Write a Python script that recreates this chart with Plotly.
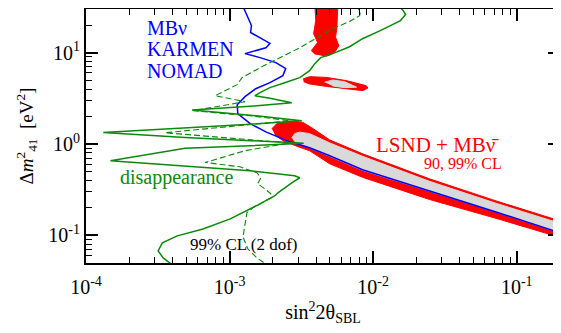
import plotly.graph_objects as go

# ---- data ----
blue_x = [1.24e-3, 1.32e-3, 1.42e-3, 1.40e-3, 1.63e-3, 1.91e-3, 1.79e-3, 1.28e-3, 1.63e-3, 2.10e-3,
          2.46e-3, 2.35e-3, 1.91e-3, 1.52e-3, 1.28e-3, 1.13e-3, 1.14e-3, 1.39e-3, 1.79e-3, 2.50e-3,
          3.61e-3, 4.98e-3, 8.43e-3, 2.46e-2, 7.17e-2, 0.2]
blue_y = [32, 25.4, 19.8, 16.6, 14.6, 12.6, 11.3, 9.75, 8.81, 7.77,
          6.68, 5.60, 4.69, 4.03, 3.30, 2.69, 2.15, 1.67, 1.36, 1.09,
          0.91, 0.745, 0.523, 0.308, 0.181, 0.107]

band99_x = [1.97e-3, 2.13e-3, 2.63e-3, 3.23e-3, 3.73e-3, 4.98e-3, 8.43e-3, 2.46e-2, 7.17e-2, 0.2,
            0.2, 7.17e-2, 2.46e-2, 8.43e-3, 4.98e-3, 3.61e-3, 2.94e-3, 2.35e-3, 2.07e-3]
band99_y = [1.47, 1.67, 1.78, 1.73, 1.51, 1.11, 0.783, 0.417, 0.239, 0.1445,
            0.0953, 0.154, 0.248, 0.433, 0.608, 0.845, 0.946, 1.09, 1.26]

band90_x = [2.71e-3, 2.84e-3, 3.08e-3, 3.61e-3, 4.98e-3, 8.43e-3, 2.46e-2, 7.17e-2, 0.2,
            0.2, 7.17e-2, 2.46e-2, 8.43e-3, 4.98e-3, 3.61e-3, 3.08e-3, 2.80e-3]
band90_y = [1.17, 1.30, 1.35, 1.30, 1.03, 0.735, 0.392, 0.225, 0.1358,
            0.107, 0.181, 0.304, 0.516, 0.735, 0.90, 1.01, 1.09]

island99_x = [3.25e-3, 3.61e-3, 4.72e-3, 6.50e-3, 8.94e-3, 9.18e-3, 8.47e-3, 6.50e-3, 4.72e-3, 3.61e-3, 3.28e-3]
island99_y = [5.15, 5.46, 5.36, 4.94, 4.35, 4.10, 3.84, 4.00, 4.27, 4.54, 4.81]
island90_x = [4.59e-3, 5.22e-3, 6.32e-3, 7.66e-3, 6.32e-3, 5.22e-3]
island90_y = [4.75, 5.02, 4.81, 4.19, 4.14, 4.32]

blob99_x = [3.92e-3, 3.98e-3, 3.85e-3, 4.10e-3, 3.71e-3, 3.92e-3, 4.72e-3, 4.98e-3, 5.39e-3, 5.77e-3,
            5.47e-3, 5.59e-3, 5.68e-3]
blob99_y = [35, 22.4, 16.1, 12.9, 10.5, 9.68, 9.16, 9.39, 10.08, 11.9, 14.7, 18.9, 35]

dis_solid_x = [1.47e-2, 1.62e-2, 1.68e-2, 1.55e-2, 1.12e-2, 8.43e-3, 6.85e-3, 5.22e-3, 4.31e-3, 3.92e-3,
               3.61e-3, 3.08e-3, 2.42e-3, 1.91e-3, 1.68e-3, 1.50e-3, 1.91e-3, 2.71e-3, 1.39e-3, 5.48e-4,
               1.39e-3, 3.18e-3, 1.39e-3, 4.90e-4, 1.32e-4, 4.90e-4, 1.39e-3, 3.28e-3, 1.39e-3, 4.90e-4,
               1.48e-4, 4.90e-4, 1.39e-3, 2.84e-3, 3.08e-3, 2.71e-3, 2.42e-3, 2.17e-3, 2.07e-3, 1.63e-3,
               1.01e-3, 6.53e-4, 4.32e-4, 3.40e-4, 3.18e-4, 3.45e-4, 3.98e-4]
dis_solid_y = [33.6, 28.8, 26.1, 22.4, 17.4, 14.2, 11.6, 9.75, 8.81, 7.58,
               6.35, 5.32, 4.69, 4.14, 3.74, 3.38, 3.17, 2.83, 2.59, 2.35,
               2.07, 1.80, 1.65, 1.51, 1.34, 1.18, 1.10, 1.02, 0.958, 0.90,
               0.656, 0.578, 0.510, 0.450, 0.428, 0.377, 0.332, 0.293, 0.272, 0.222,
               0.152, 0.118, 0.0990, 0.0830, 0.0678, 0.0569, 0.0477]

dis_dash_x = [7.54e-3, 8.17e-3, 8.04e-3, 6.85e-3, 5.22e-3, 4.04e-3, 3.08e-3, 2.24e-3, 1.63e-3, 1.22e-3,
              1.13e-3, 7.92e-4, 1.28e-3, 5.57e-4, 1.39e-3, 2.63e-3, 1.01e-3, 3.56e-4, 1.01e-3, 2.63e-3,
              1.28e-3, 6.75e-4, 1.18e-3, 1.55e-3, 1.65e-3, 1.57e-3, 1.76e-3, 1.94e-3, 1.94e-3, 1.45e-3,
              1.32e-3, 1.28e-3, 1.24e-3, 1.34e-3, 1.55e-3, 1.82e-3]
dis_dash_y = [32.7, 28.1, 25.4, 21.9, 18.3, 14.6, 11.3, 8.81, 6.85, 5.32,
              4.46, 3.38, 2.91, 2.31, 2.04, 1.80, 1.55, 1.33, 1.16, 1.03,
              0.845, 0.629, 0.564, 0.485, 0.428, 0.367, 0.324, 0.286, 0.258, 0.2006,
              0.177, 0.127, 0.0966, 0.0713, 0.0569, 0.0477]

x_tickvals = [1e-4, 1e-3, 1e-2, 1e-1]
x_ticktext = ["10<sup>-4</sup>", "10<sup>-3</sup>", "10<sup>-2</sup>", "10<sup>-1</sup>"]
y_tickvals = [0.1, 1, 10]
y_ticktext = ["10<sup>-1</sup>", "10<sup>0</sup>", "10<sup>1</sup>"]
x_minor = [k * 10.0 ** e for e in range(-4, 0) for k in range(2, 10)]
y_minor = [k * 10.0 ** e for e in range(-2, 2) for k in range(2, 10)]

RED = "#ff0000"
GRAY = "#d9d9d9"
BLUE = "#0000ff"
GREEN = "#0a8a0a"
FONT = "Times New Roman, Liberation Serif, DejaVu Serif, serif"

fig = go.Figure()

def poly(x, y, color):
    fig.add_trace(go.Scatter(x=x, y=y, mode="lines", fill="toself", fillcolor=color,
                             line=dict(color=color, width=1), hoverinfo="skip", showlegend=False))

poly(band99_x, band99_y, RED)
poly(band90_x, band90_y, GRAY)
poly(island99_x, island99_y, RED)
poly(island90_x, island90_y, GRAY)
poly(blob99_x, blob99_y, RED)

fig.add_trace(go.Scatter(x=blue_x, y=blue_y, mode="lines", line=dict(color=BLUE, width=1.5),
                         showlegend=False))
fig.add_trace(go.Scatter(x=dis_dash_x, y=dis_dash_y, mode="lines",
                         line=dict(color=GREEN, width=1.1, dash="6px,3px"), showlegend=False))
fig.add_trace(go.Scatter(x=dis_solid_x, y=dis_solid_y, mode="lines",
                         line=dict(color=GREEN, width=1.5), showlegend=False))

axis_common = dict(type="log", showgrid=False, zeroline=False, showline=True, linecolor="black",
                   linewidth=2, mirror="ticks", ticks="inside", ticklen=12, tickwidth=1.5,
                   tickcolor="black", tickmode="array",
                   tickfont=dict(family=FONT, size=20, color="black"))

fig.update_xaxes(range=[-4, -0.69897], tickvals=x_tickvals, ticktext=x_ticktext,
                 ticklabelstandoff=5,
                 minor=dict(tickmode="array", tickvals=x_minor, ticks="inside", ticklen=6,
                            tickwidth=1.2, tickcolor="black"),
                 title=dict(text="sin<sup>2</sup>2θ<sub>SBL</sub>",
                            font=dict(family=FONT, size=20, color="black"), standoff=8),
                 **axis_common)
fig.update_yaxes(range=[-1.30103, 1.47712], tickvals=y_tickvals, ticktext=y_ticktext,
                 minor=dict(tickmode="array", tickvals=y_minor, ticks="inside", ticklen=6,
                            tickwidth=1.2, tickcolor="black"),
                 title=dict(text="Δ<i>m</i><sup>2</sup><sub>41</sub>  [eV<sup>2</sup>]",
                            font=dict(family=FONT, size=19, color="black"), standoff=10),
                 **axis_common)

def note(text, x, y, size, color, xanchor="left"):
    fig.add_annotation(text=text, x=x, y=y, xref="paper", yref="paper", showarrow=False,
                       xanchor=xanchor, yanchor="middle",
                       font=dict(family=FONT, size=size, color=color))

note("MBν", 0.125, 0.926, 20, BLUE)
note("KARMEN", 0.125, 0.843, 20, BLUE)
note("NOMAD", 0.125, 0.757, 20, BLUE)
note("LSND + MBν\u0304", 0.741, 0.466, 21, RED, "center")
note("90, 99% CL", 0.795, 0.390, 16, RED, "center")
note("disappearance", 0.191, 0.336, 20, GREEN, "center")
note("99% CL (2 dof)", 0.333, 0.072, 17, "black", "center")

# the page body adds an 8px offset, so the figure is sized to fit the 561x333 window
fig.update_layout(width=553, height=325, margin=dict(l=78, r=1, t=1, b=70, autoexpand=False),
                  paper_bgcolor="white", plot_bgcolor="white", showlegend=False)

fig.write_html("out.html")
